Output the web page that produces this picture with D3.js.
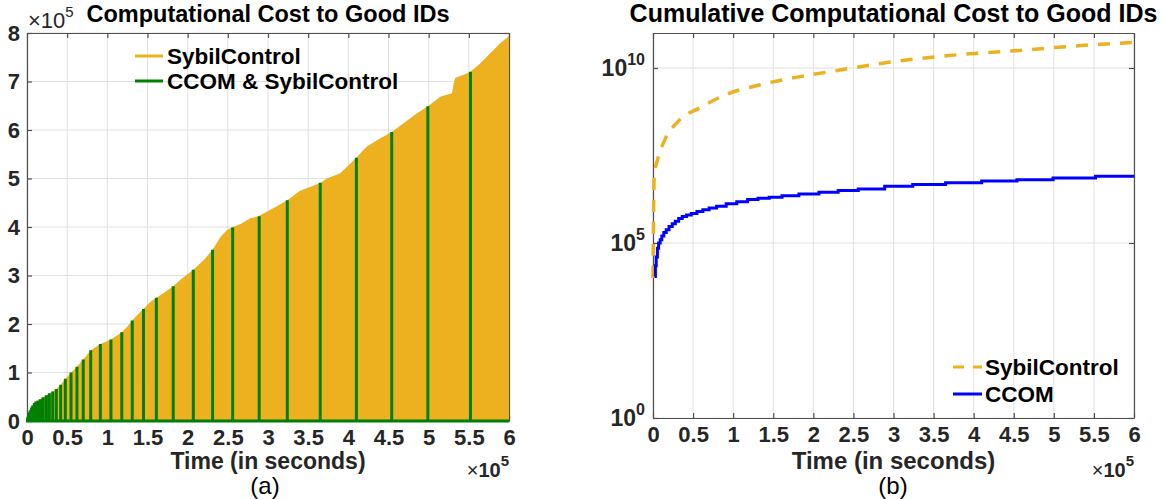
<!DOCTYPE html>
<html><head><meta charset="utf-8">
<script src="https://cdn.jsdelivr.net/npm/d3@7"></script>
<style>
body{margin:0;background:#fff;}
text{font-family:"Liberation Sans",Arial,Helvetica,sans-serif;}
</style></head><body>
<svg id="c" width="1167" height="499"></svg>
<script>
// ---------- data (time in units of 1e5 s) ----------
const xTickValues = [0,0.5,1,1.5,2,2.5,3,3.5,4,4.5,5,5.5,6];
const xTickLabels = ["0","0.5","1","1.5","2","2.5","3","3.5","4","4.5","5","5.5","6"];
const yTickLeft = [0,1,2,3,4,5,6,7,8];
const yTickRightExp = [0,5,10];

// (a) SybilControl cost to good IDs (x1e5)
const sybilTime = [0,0.02,0.05,0.08,0.12,0.17,0.24,0.28,0.32,0.365,0.42,0.48,0.55,0.62,0.70,0.79,0.85,0.91,1.045,1.18,1.25,1.31,1.38,1.45,1.53,1.61,1.72,1.82,1.91,2.07,2.2,2.31,2.41,2.49,2.56,2.66,2.78,2.88,3.07,3.24,3.40,3.66,3.73,3.90,4.07,4.23,4.40,4.54,4.60,4.85,4.99,5.15,5.29,5.31,5.33,5.48,5.52,5.64,5.89,6.0];
const sybilCost = [0,0.12,0.25,0.35,0.41,0.46,0.53,0.57,0.61,0.66,0.75,0.87,1.0,1.12,1.27,1.45,1.52,1.58,1.68,1.83,1.95,2.07,2.2,2.31,2.45,2.54,2.66,2.78,2.91,3.12,3.32,3.53,3.8,3.94,4.0,4.06,4.18,4.22,4.39,4.55,4.75,4.91,5.0,5.11,5.38,5.66,5.83,5.96,6.03,6.34,6.49,6.69,6.76,6.95,7.07,7.17,7.20,7.37,7.79,7.94];

// (a) CCOM & SybilControl spikes (x1e5)
const ccomTime = [0.006,0.012,0.02,0.03,0.04,0.055,0.07,0.09,0.11,0.135,0.165,0.20,0.24,0.278,0.32,0.365,0.419,0.477,0.548,0.622,0.70,0.793,0.913,1.045,1.18,1.31,1.45,1.61,1.82,2.07,2.31,2.56,2.89,3.24,3.65,4.10,4.54,4.99,5.52];
const ccomCost = [0.05,0.09,0.12,0.18,0.22,0.28,0.32,0.37,0.40,0.42,0.45,0.49,0.53,0.57,0.61,0.66,0.75,0.87,1.0,1.12,1.27,1.46,1.59,1.68,1.83,2.07,2.31,2.54,2.78,3.12,3.53,3.99,4.22,4.55,4.91,5.43,5.96,6.49,7.20];

// (b) cumulative costs (log10 of value)
const cumSybilTime = [0,0.015,0.07,0.15,0.32,0.59,0.92,1.3,1.8,2.3,2.84,3.66,4.5,5.33,6.0];
const cumSybilLog10 = [4.0,6.9,7.48,7.96,8.49,8.87,9.25,9.5,9.74,9.93,10.13,10.35,10.49,10.64,10.73];
const cumCcomTime = [0.02,0.03,0.04,0.055,0.07,0.09,0.11,0.135,0.165,0.20,0.24,0.278,0.32,0.365,0.419,0.477,0.548,0.622,0.70,0.793,0.913,1.045,1.18,1.31,1.45,1.61,1.82,2.07,2.31,2.56,2.89,3.24,3.65,4.10,4.54,4.99,5.52,6.0];
const cumCcomLog10 = [4.04,4.35,4.6,4.85,5.0,5.09,5.2,5.3,5.38,5.47,5.55,5.62,5.7,5.76,5.8,5.84,5.9,5.95,6.0,6.05,6.12,6.18,6.24,6.28,6.31,6.35,6.4,6.45,6.5,6.54,6.62,6.67,6.72,6.77,6.81,6.86,6.91,6.91];

// ---------- styling ----------
const YELLOW = "#EDB120", GREEN = "#008000", BLUE = "#0000FF";
const AXIS = "#505050", GRID = "#e0e0e0", TXT = "#262626";
const FONT = '"Liberation Sans",Arial,sans-serif';

const svg = d3.select("#c");

function frame(x, y, yTicks, customY) {
  const g = svg.append("g");
  const [x0,x1] = x.range(); const [y0,y1] = y.range();
  g.selectAll(".gx").data(xTickValues).join("line")
    .attr("x1", d=>x(d)).attr("x2", d=>x(d)).attr("y1", y0).attr("y2", y1)
    .attr("stroke", GRID).attr("stroke-width", 1);
  g.selectAll(".gy").data(yTicks).join("line")
    .attr("x1", x0).attr("x2", x1).attr("y1", d=>y(d)).attr("y2", d=>y(d))
    .attr("stroke", GRID).attr("stroke-width", 1);
  const bot = g.append("g").attr("transform", `translate(0,${y0})`)
    .call(d3.axisBottom(x).tickValues(xTickValues).tickFormat((d,i)=>xTickLabels[i])
      .tickSizeInner(-5).tickSizeOuter(0).tickPadding(8));
  const top = g.append("g").attr("transform", `translate(0,${y1})`)
    .call(d3.axisTop(x).tickValues(xTickValues).tickFormat("").tickSizeInner(-5).tickSizeOuter(0));
  const lft = g.append("g").attr("transform", `translate(${x0},0)`)
    .call(d3.axisLeft(y).tickValues(yTicks).tickFormat(customY ? "" : d3.format("d"))
      .tickSizeInner(-5).tickSizeOuter(0).tickPadding(7));
  const rgt = g.append("g").attr("transform", `translate(${x1},0)`)
    .call(d3.axisRight(y).tickValues(yTicks).tickFormat("").tickSizeInner(-5).tickSizeOuter(0));
  [bot,top,lft,rgt].forEach(a => {
    a.selectAll("path,line").attr("stroke", AXIS).attr("stroke-width", 1.2);
    a.selectAll("text").attr("fill", TXT).attr("font-size", 22).attr("font-weight", "bold")
      .attr("font-family", FONT);
  });
  return g;
}

// ================= (a) =================
const xL = d3.scaleLinear().domain([0,6]).range([27,509]);
const yL = d3.scaleLinear().domain([0,8]).range([421,33]);
frame(xL, yL, yTickLeft, false);

const sybilPts = sybilTime.map((t,i)=>[t, sybilCost[i]]);
svg.append("path").datum(sybilPts)
  .attr("d", d3.area().x(d=>xL(d[0])).y0(yL(0)).y1(d=>yL(d[1])))
  .attr("fill", YELLOW);

const greenPts = [[0,0]];
ccomTime.forEach((t,i)=>{ greenPts.push([t,0],[t,ccomCost[i]],[t,0]); });
greenPts.push([6,0]);
svg.append("path").datum(greenPts)
  .attr("d", d3.line().x(d=>xL(d[0])).y(d=>yL(d[1])))
  .attr("fill","none").attr("stroke", GREEN).attr("stroke-width", 3);

svg.append("text").attr("x", 268).attr("y", 22).attr("text-anchor","middle")
  .attr("font-size", 23.5).attr("font-weight","bold").attr("fill","#000")
  .text("Computational Cost to Good IDs");
const mulTop = svg.append("text").attr("x", 28).attr("y", 28).attr("fill", TXT);
mulTop.append("tspan").attr("font-size", 22).text("×10");
mulTop.append("tspan").attr("font-size", 15).attr("dy", -11).text("5");

svg.append("text").attr("x", 268).attr("y", 469).attr("text-anchor","middle")
  .attr("font-size", 23).attr("font-weight","bold").attr("fill", TXT).text("Time (in seconds)");
function mulBottom(xRight) {
  const t = svg.append("text").attr("x", xRight).attr("y", 477).attr("text-anchor","end").attr("fill", TXT);
  t.append("tspan").attr("font-size", 20).text("×");
  t.append("tspan").attr("font-size", 20).attr("font-weight","bold").text("10");
  t.append("tspan").attr("font-size", 15).attr("font-weight","bold").attr("dy", -11).text("5");
}
mulBottom(509);
svg.append("text").attr("x", 265).attr("y", 494).attr("text-anchor","middle")
  .attr("font-family", '"Liberation Serif","Times New Roman",serif').attr("font-size", 24).attr("fill","#000").text("(a)");

const legA = [["SybilControl", YELLOW, 56], ["CCOM & SybilControl", GREEN, 81]];
legA.forEach(([lab,col,yy])=>{
  svg.append("line").attr("x1",135).attr("x2",163).attr("y1",yy).attr("y2",yy)
    .attr("stroke", col).attr("stroke-width", 3);
  svg.append("text").attr("x",167).attr("y",yy+8).attr("font-size",22.5).attr("font-weight","bold")
    .attr("fill","#000").text(lab);
});

// ================= (b) =================
const xR = d3.scaleLinear().domain([0,6]).range([653,1134]);
const yR = d3.scaleLog().domain([1,1e11]).range([418,33]);
const yRTicks = yTickRightExp.map(e=>Math.pow(10,e));
frame(xR, yR, yRTicks, true);

yTickRightExp.forEach(e=>{
  const t = svg.append("text").attr("x", 645).attr("y", yR(Math.pow(10,e)) + 8)
    .attr("text-anchor","end").attr("fill", TXT).attr("font-weight","bold");
  t.append("tspan").attr("font-size", 23).text("10");
  t.append("tspan").attr("font-size", 16).attr("dy", -11).text(String(e));
});

const cumSybilPts = cumSybilTime.map((t,i)=>[t, Math.pow(10, cumSybilLog10[i])]);
svg.append("path").datum(cumSybilPts)
  .attr("d", d3.line().x(d=>xR(d[0])).y(d=>yR(d[1])).curve(d3.curveMonotoneX))
  .attr("fill","none").attr("stroke", YELLOW).attr("stroke-width", 3.5)
  .attr("stroke-dasharray","12,10");

const cumCcomPts = cumCcomTime.map((t,i)=>[t, Math.pow(10, cumCcomLog10[i])]);
svg.append("path").datum(cumCcomPts)
  .attr("d", d3.line().x(d=>xR(d[0])).y(d=>yR(d[1])).curve(d3.curveStepAfter))
  .attr("fill","none").attr("stroke", BLUE).attr("stroke-width", 3);

svg.append("text").attr("x", 893.5).attr("y", 22).attr("text-anchor","middle")
  .attr("font-size", 25).attr("font-weight","bold").attr("fill","#000")
  .text("Cumulative Computational Cost to Good IDs");
svg.append("text").attr("x", 893.5).attr("y", 469).attr("text-anchor","middle")
  .attr("font-size", 24).attr("font-weight","bold").attr("fill", TXT).text("Time (in seconds)");
mulBottom(1134);
svg.append("text").attr("x", 893).attr("y", 494).attr("text-anchor","middle")
  .attr("font-family", '"Liberation Serif","Times New Roman",serif').attr("font-size", 24).attr("fill","#000").text("(b)");

const legB = [["SybilControl", YELLOW, 367, "11,9"], ["CCOM", BLUE, 394, null]];
legB.forEach(([lab,col,yy,dash])=>{
  const l = svg.append("line").attr("x1",953).attr("x2",982).attr("y1",yy).attr("y2",yy)
    .attr("stroke", col).attr("stroke-width", 3);
  if (dash) l.attr("stroke-dasharray", dash);
  svg.append("text").attr("x",985).attr("y",yy+8).attr("font-size",22.5).attr("font-weight","bold")
    .attr("fill","#000").text(lab);
});
</script>
</body></html>
